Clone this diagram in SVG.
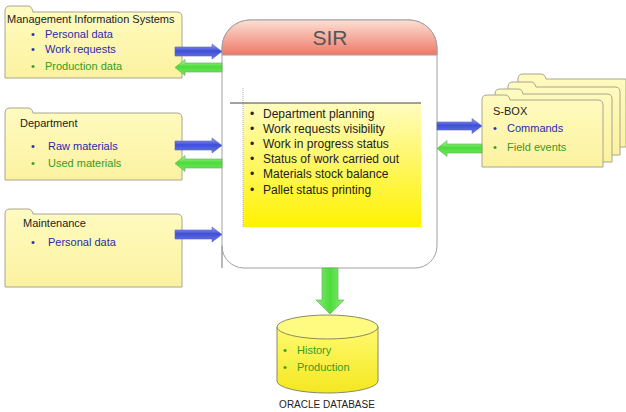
<svg xmlns="http://www.w3.org/2000/svg" width="626" height="412" viewBox="0 0 626 412">
<defs>
<linearGradient id="folderG" x1="0" y1="0" x2="0" y2="1"><stop offset="0" stop-color="#FFFBC0"/><stop offset="1" stop-color="#FBF2A0"/></linearGradient>
<linearGradient id="blueG" x1="0" y1="0" x2="0" y2="1"><stop offset="0" stop-color="#9FA8F0"/><stop offset="0.45" stop-color="#3F4FD8"/><stop offset="1" stop-color="#6A78E6"/></linearGradient>
<linearGradient id="greenG" x1="0" y1="0" x2="0" y2="1"><stop offset="0" stop-color="#B6F5A6"/><stop offset="0.45" stop-color="#4CDC3A"/><stop offset="1" stop-color="#7AE86A"/></linearGradient>
<linearGradient id="greenV" x1="0" y1="0" x2="1" y2="0"><stop offset="0" stop-color="#8AEA7A"/><stop offset="0.5" stop-color="#4CDC3A"/><stop offset="1" stop-color="#8AEA7A"/></linearGradient>
<linearGradient id="headG" x1="0" y1="0" x2="0" y2="1"><stop offset="0" stop-color="#FBE0D4"/><stop offset="1" stop-color="#F07868"/></linearGradient>
<linearGradient id="panelG" x1="0" y1="0" x2="0" y2="1"><stop offset="0" stop-color="#FFFCC0"/><stop offset="1" stop-color="#FFF200"/></linearGradient>
<linearGradient id="dbG" x1="0" y1="0" x2="0" y2="1"><stop offset="0" stop-color="#FFFA70"/><stop offset="1" stop-color="#F4E820"/></linearGradient>
</defs>
<style>
.folder{fill:url(#folderG);stroke:#A8A690;stroke-width:1}
.hdr{font-family:"Liberation Sans",Arial,sans-serif;font-size:11px;fill:#222}
.b{font-family:"Liberation Sans",Arial,sans-serif;font-size:11px;fill:#2B2BA8}
.g{font-family:"Liberation Sans",Arial,sans-serif;font-size:11px;fill:#3A9A22}
.k{font-family:"Liberation Sans",Arial,sans-serif;font-size:12px;fill:#222}
.ab{fill:url(#blueG);stroke:#5A64B8;stroke-width:0.6}
.ag{fill:url(#greenG);stroke:#5CB04C;stroke-width:0.6}
</style>
<rect width="626" height="412" fill="#fff"/>

<g id="mis">
<path class="folder" d="M5,78 V11 Q5,6 10,6 H28 Q32,6 33,12 H177 Q182,12 182,17 V78 Z"/>
<text class="hdr" x="7" y="23">Management Information Systems</text>
<text class="b" x="31" y="38">•</text><text class="b" x="45" y="38">Personal data</text>
<text class="b" x="31" y="53">•</text><text class="b" x="45" y="53">Work requests</text>
<text class="g" x="31" y="70">•</text><text class="g" x="45" y="70">Production data</text>
</g>

<g id="department">
<path class="folder" d="M5,180 V113 Q5,108 10,108 H28 Q32,108 33,113 H177 Q182,113 182,118 V180 Z"/>
<text class="hdr" x="20" y="127">Department</text>
<text class="b" x="31" y="150">•</text><text class="b" x="48" y="150">Raw materials</text>
<text class="g" x="31" y="167">•</text><text class="g" x="48" y="167">Used materials</text>
</g>

<g id="maintenance">
<path class="folder" d="M5,287 V214 Q5,209 10,209 H28 Q32,209 33,214 H177 Q182,214 182,219 V287 Z"/>
<text class="hdr" x="23" y="227">Maintenance</text>
<text class="b" x="31" y="246">•</text><text class="b" x="48" y="246">Personal data</text>
</g>

<g id="sir">
<path d="M222,268 V48 A28,28 0 0 1 250,20 H409 A28,28 0 0 1 437,48 V246 A22,22 0 0 1 415,268 H244 A22,22 0 0 1 222,246 Z" fill="#fff" stroke="#A0A0A0" stroke-width="1"/>
<path d="M222,55 V48 A28,28 0 0 1 250,20 H409 A28,28 0 0 1 437,48 V55 Z" fill="url(#headG)" stroke="#A0A0A0" stroke-width="1"/>
<text x="330" y="45" text-anchor="middle" font-family="'Liberation Sans',Arial,sans-serif" font-size="21" fill="#555">SIR</text>
<rect x="243" y="103" width="178" height="124" fill="url(#panelG)"/>
<line x1="243" y1="88" x2="243" y2="227" stroke="#B0B0B0" stroke-width="1" stroke-dasharray="1,1"/>
<line x1="230" y1="103" x2="421" y2="103" stroke="#444" stroke-width="1"/>
<text class="k" x="250" y="118">•</text><text class="k" x="263" y="118">Department planning</text>
<text class="k" x="250" y="133">•</text><text class="k" x="263" y="133">Work requests visibility</text>
<text class="k" x="250" y="148">•</text><text class="k" x="263" y="148">Work in progress status</text>
<text class="k" x="250" y="163">•</text><text class="k" x="263" y="163">Status of work carried out</text>
<text class="k" x="250" y="178">•</text><text class="k" x="263" y="178">Materials stock balance</text>
<text class="k" x="250" y="194">•</text><text class="k" x="263" y="194">Pallet status printing</text>
</g>

<g id="sbox">
<path class="folder" d="M518,147 V79 Q518,74 523,74 H541 Q545,74 546,79 H626 V147 Z"/>
<path class="folder" d="M508,155 V87 Q508,82 513,82 H531 Q535,82 536,87 H615 Q620,87 620,92 V155 Z"/>
<path class="folder" d="M495,162 V94 Q495,89 500,89 H518 Q522,89 523,94 H607 Q612,94 612,99 V162 Z"/>
<path class="folder" d="M482,167 V100 Q482,95 487,95 H505 Q509,95 510,100 H598 Q603,100 603,105 V167 Z"/>
<text class="hdr" x="493" y="115">S-BOX</text>
<text class="b" x="493" y="132">•</text><text class="b" x="507" y="132">Commands</text>
<text class="g" x="493" y="151">•</text><text class="g" x="507" y="151">Field events</text>
</g>

<g id="oracle">
<path d="M277,327 V381 A50.5,12 0 0 0 378,381 V327 Z" fill="url(#dbG)" stroke="#8A8A60" stroke-width="1"/>
<ellipse cx="327.5" cy="327" rx="50.5" ry="12" fill="#FFFB80" stroke="#8A8A60" stroke-width="1"/>
<text class="g" x="283" y="354">•</text><text class="g" x="297" y="354">History</text>
<text class="g" x="283" y="371">•</text><text class="g" x="297" y="371">Production</text>
<text x="327" y="408" text-anchor="middle" font-family="'Liberation Sans',Arial,sans-serif" font-size="10" fill="#222">ORACLE DATABASE</text>
</g>

<g id="connectors">
<path class="ab" d="M175,47 H212 V44 L222,51.5 L212,59 V56 H175 Z"/>
<path class="ag" d="M222,63 H185 V59.5 L175,67.5 L185,75.5 V72 H222 Z"/>
<path class="ab" d="M175,141 H212 V138 L222,145.5 L212,153 V150 H175 Z"/>
<path class="ag" d="M222,159 H185 V155.5 L175,163.5 L185,171.5 V168 H222 Z"/>
<path class="ab" d="M175,230 H212 V227 L222,234.5 L212,242 V239 H175 Z"/>
<path class="ab" d="M437,122 H472 V118.5 L482,126 L472,133.5 V130 H437 Z"/>
<path class="ag" d="M482,144 H447 V140.5 L437,148.5 L447,156.5 V153 H482 Z"/>
<path d="M322,268 V300 H316 L330,314 L344,300 H338 V268 Z" fill="url(#greenV)" stroke="#5CB04C" stroke-width="0.6"/>
</g>
</svg>
